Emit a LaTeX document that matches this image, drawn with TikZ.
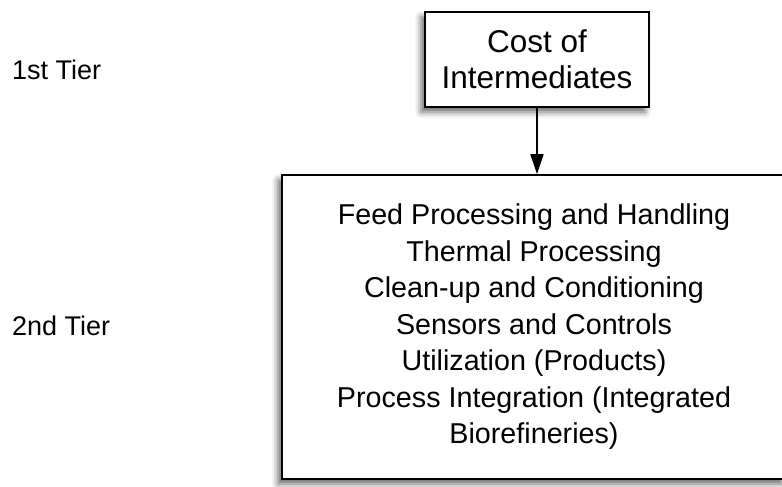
\documentclass[tikz,border=0pt]{standalone}
\usepackage{fontspec}
\setmainfont{Liberation Sans}
\usetikzlibrary{arrows.meta,shadows.blur}

\begin{document}
\begin{tikzpicture}[x=1pt,y=1pt,
  tierbox/.style={draw,line width=1.6pt,fill=white,align=center,inner sep=0pt,
    blur shadow={shadow xshift=-4pt,shadow yshift=-5pt,shadow blur radius=6pt,shadow opacity=60}},
  tiertext/.style={anchor=west,inner sep=0pt,font=\fontsize{27}{30}\selectfont}]
\useasboundingbox (0,0) rectangle (782,-487);
\node[tiertext] (tier1) at (12,-70) {1st Tier};
\node[tiertext] (tier2) at (12,-326) {2nd Tier};
\node[tierbox,minimum width=224,minimum height=95,font=\fontsize{31.5}{36}\selectfont] (cost) at (537,-59.5) {Cost of\\Intermediates};
\node[tierbox,minimum width=504,minimum height=304,font=\fontsize{28.7}{36.5}\selectfont] (areas) at (534,-327)
  {Feed Processing and Handling\\Thermal Processing\\Clean-up and Conditioning\\Sensors and Controls\\
   Utilization (Products)\\Process Integration (Integrated\\Biorefineries)};
\draw[line width=1.6pt,-{Triangle[length=20pt,width=13pt]}] (cost.south) -- (cost.south |- areas.north);
\end{tikzpicture}
\end{document}
